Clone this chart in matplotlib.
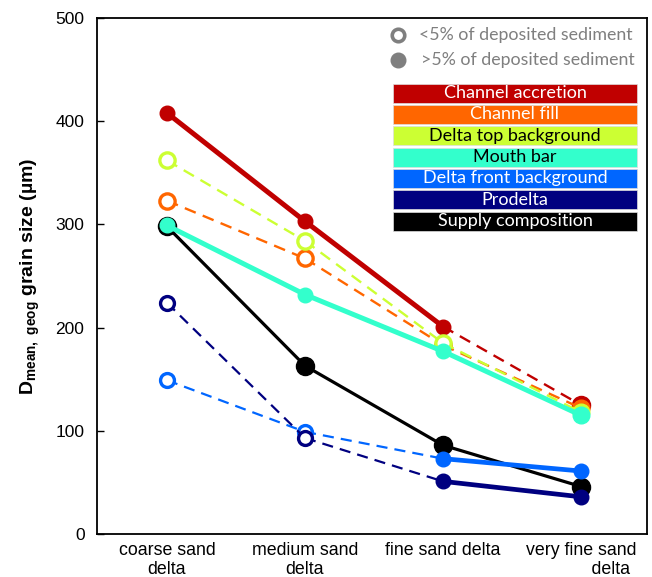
import matplotlib
matplotlib.use("Agg")
import matplotlib.pyplot as plt
from matplotlib.patches import Rectangle
from matplotlib.lines import Line2D

plt.rcParams['font.family'] = ['Liberation Sans', 'DejaVu Sans']
plt.rcParams['mathtext.fontset'] = 'custom'
plt.rcParams['mathtext.rm'] = 'Liberation Sans'
plt.rcParams['mathtext.bf'] = 'Liberation Sans:bold'

# ---- data -------------------------------------------------------------
deltas = ["coarse sand\ndelta", "medium sand\ndelta", "fine sand delta",
          "very fine sand\n            delta"]

series_names = ["Channel accretion", "Channel fill", "Delta top background",
                "Mouth bar", "Delta front background", "Prodelta",
                "Supply composition"]
series_colors = ["#C00000", "#FF6600", "#CCFF33", "#33FFCC",
                 "#0066FF", "#000080", "#000000"]
label_colors = ["white", "white", "black", "black", "white", "white", "white"]

channel_accretion = [408, 303, 201, 125]
channel_fill = [323, 267, 183, 122]
delta_top = [362, 284, 185, 118]
mouth_bar = [299, 232, 177, 115]
delta_front = [149, 99, 73, 61]
prodelta = [224, 93, 51, 36]
supply = [298, 163, 86, 46]

# True where the facies is >5% of deposited sediment (filled marker)
accretion_major = [True, True, True, True]
fill_major = [False, False, False, True]
top_major = [False, False, False, True]
mouth_major = [True, True, True, True]
front_major = [False, False, True, True]
prodelta_major = [False, False, True, True]
supply_major = [True, True, True, True]

# segment styles between consecutive deltas (True = solid)
accretion_solid = [True, True, False]
fill_solid = [False, False, False]
top_solid = [False, False, False]
mouth_solid = [True, True, True]
front_solid = [False, False, True]
prodelta_solid = [False, False, True]
supply_solid = [True, True, True]

# ---- figure -----------------------------------------------------------
W, H = 652, 577
fig = plt.figure(figsize=(W / 100, H / 100), dpi=100)
ax = fig.add_axes([97 / W, 1 - 534 / H, 550 / W, 516 / H])

x = list(range(len(deltas)))


def draw(vals, major, solid, color, lw_solid, lw_dash, ms, z):
    for i in range(len(vals) - 1):
        if solid[i]:
            ax.plot(x[i:i + 2], vals[i:i + 2], color=color, lw=lw_solid,
                    solid_capstyle='round', zorder=z)
        else:
            ax.plot(x[i:i + 2], vals[i:i + 2], color=color, lw=lw_dash,
                    dashes=(5, 3.2), zorder=z)
    for i, v in enumerate(vals):
        size = ms[i]
        if major[i]:
            ax.plot(x[i], v, 'o', ms=size, mfc=color, mec=color, mew=1,
                    zorder=z + 0.5)
        else:
            ax.plot(x[i], v, 'o', ms=size - 1, mfc='white', mec=color,
                    mew=2.4, zorder=z + 0.5)


draw(supply, supply_major, supply_solid, series_colors[6], 2.3, 1.7,
     [13, 13, 13, 13], 2)
draw(channel_accretion, accretion_major, accretion_solid, series_colors[0],
     3.6, 1.7, [10.5, 10.5, 10.5, 13], 3)
draw(channel_fill, fill_major, fill_solid, series_colors[1], 3.3, 1.7,
     [12, 12, 12, 12], 4)
draw(delta_top, top_major, top_solid, series_colors[2], 3.3, 1.7,
     [12, 12, 12, 12], 5)
draw(mouth_bar, mouth_major, mouth_solid, series_colors[3], 3.6, 1.7,
     [10.5, 10.5, 10.5, 12], 6)
draw(delta_front, front_major, front_solid, series_colors[4], 3.4, 1.6,
     [11, 11, 10.5, 10.5], 7)
draw(prodelta, prodelta_major, prodelta_solid, series_colors[5], 3.4, 1.6,
     [11, 11, 10.5, 10.5], 8)

ax.set_xlim(-0.507, 3.478)
ax.set_ylim(0, 500)
ax.set_yticks([0, 100, 200, 300, 400, 500])
ax.set_xticks(x)
ax.set_xticklabels(deltas, fontsize=12.8, linespacing=1.1)
ax.tick_params(axis='x', length=0, pad=6)
ax.tick_params(axis='y', direction='in', length=5, width=1, labelsize=12.5,
               pad=9)
for s in ax.spines.values():
    s.set_linewidth(1.3)
ax.set_ylabel(r'$\mathbf{D}_{\mathbf{mean,\ geog}}$' + ' grain size (\u00b5m)',
              fontsize=14, fontweight='bold', labelpad=10)

# ---- legend: marker meaning ------------------------------------------
grey = '#7F7F7F'
fig.add_artist(Line2D([398 / W], [1 - 35 / H], marker='o', ms=9, mfc='white',
                      mec=grey, mew=2.6, transform=fig.transFigure))
fig.add_artist(Line2D([398 / W], [1 - 60 / H], marker='o', ms=10.5, mfc=grey,
                      mec=grey, transform=fig.transFigure))
fig.text(419 / W, 1 - 35 / H, "<5% of deposited sediment", color=grey,
         fontsize=12.8, family='Lato', va='center', ha='left')
fig.text(421 / W, 1 - 60 / H, ">5% of deposited sediment", color=grey,
         fontsize=12.8, family='Lato', va='center', ha='left')

# ---- legend: colour boxes --------------------------------------------
box_x0, box_x1 = 393, 637
for i, (name, col, tcol) in enumerate(zip(series_names, series_colors,
                                          label_colors)):
    top = 83.5 + i * 21.35
    h = 19
    fig.add_artist(Rectangle((box_x0 / W, 1 - (top + h) / H),
                             (box_x1 - box_x0) / W, h / H, facecolor=col,
                             edgecolor='#DDDDDD', lw=0.5,
                             transform=fig.transFigure))
    fig.text((box_x0 + box_x1) / 2 / W, 1 - (top + h / 2) / H, name,
             color=tcol, fontsize=13, family='Lato', ha='center',
             va='center')

fig.savefig("out.png", dpi=100)
